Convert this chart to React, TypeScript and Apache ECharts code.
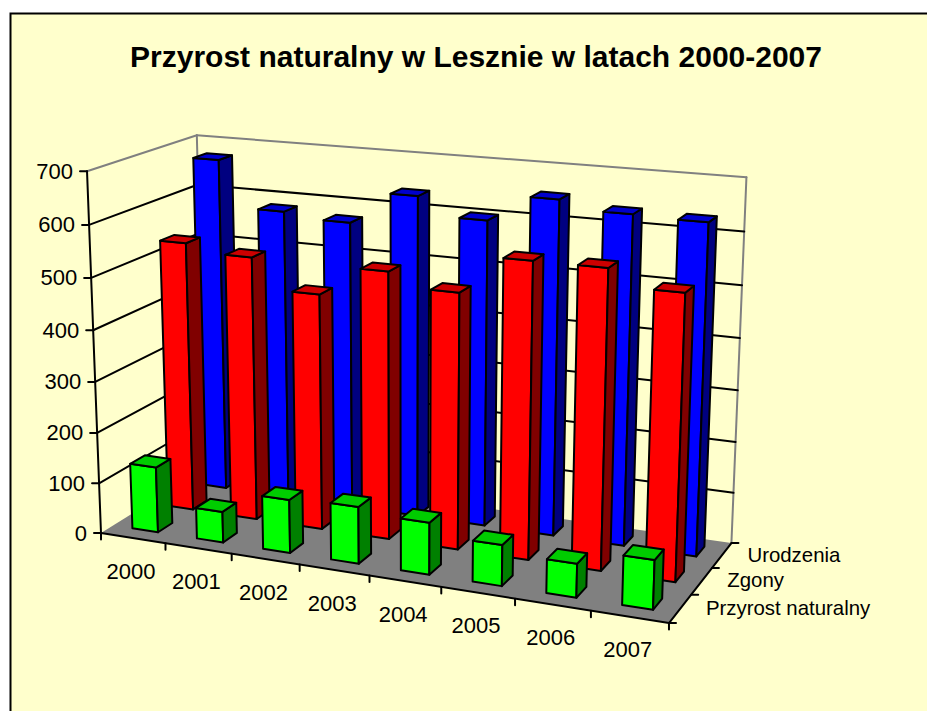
import React, { useEffect, useRef } from "react";
import * as echarts from "echarts";

const titleText = "Przyrost naturalny w Lesznie w latach 2000-2007";
const years = ["2000", "2001", "2002", "2003", "2004", "2005", "2006", "2007"];
const valueTicks = [0, 100, 200, 300, 400, 500, 600, 700];
const depthLabels = ["Przyrost naturalny", "Zgony", "Urodzenia"];
const urodzenia = [673, 582, 572, 635, 600, 651, 635, 632];
const zgony = [536, 521, 463, 520, 494, 566, 566, 535];
const przyrost = [130, 61, 104, 110, 100, 78, 64, 92];

const FONT = '"Liberation Sans", Arial, sans-serif';
const VALUE_MAX = 700;

// Camera: projective mapping of the unit box (u along years, v up, w into the page)
const O = [101, 533];
const VU = [-4824, -248];
const VV = [407, 8450];
const VW = [1342, -239];
const A = -0.1034;
const B = -0.0437;
const C = 0.0917;
function project(u: number, v: number, w: number): number[] {
  const d = 1 + A * u + B * v + C * w;
  return [
    (O[0] + A * u * VU[0] + B * v * VV[0] + C * w * VW[0]) / d,
    (O[1] + A * u * VU[1] + B * v * VV[1] + C * w * VW[1]) / d,
  ];
}

const line = (a: number[], b: number[], stroke: string, lineWidth: number) => ({
  type: "line",
  shape: { x1: a[0], y1: a[1], x2: b[0], y2: b[1] },
  style: { stroke, lineWidth, lineCap: "round" },
});
const poly = (points: number[][], fill: string) => ({
  type: "polygon",
  shape: { points },
  style: { fill, stroke: "#000000", lineWidth: 2, lineJoin: "round" },
});
const label = (text: string, x: number, y: number, size: number, align: string) => ({
  type: "text",
  style: { text, x, y, fill: "#000000", font: `${size}px ${FONT}`, align, verticalAlign: "middle" },
});

const BAR_RATIO = 0.4;
const DEPTH_HALF = 0.0667;
const DEPTH_SHIFT = 0.01;

function barSeries(name: string, values: number[], slot: number, colors: string[]) {
  return {
    type: "custom",
    name,
    clip: false,
    silent: true,
    data: values.map((v, i) => [i, v]),
    renderItem: (params: any, api: any) => {
      const sys = params.coordSys;
      const i = api.value(0);
      const p = api.coord([i, api.value(1)]);
      const uc = (p[0] - sys.x) / sys.width;
      const top = (sys.y + sys.height - p[1]) / sys.height;
      const half = (api.size([1, 0])[0] / sys.width) * BAR_RATIO * 0.5;
      const u0 = uc - half;
      const u1 = uc + half;
      const wc = (slot + 0.5) / depthLabels.length + DEPTH_SHIFT;
      const w0 = wc - DEPTH_HALF;
      const w1 = wc + DEPTH_HALF;
      return {
        type: "group",
        children: [
          poly([project(u0, 0, w0), project(u1, 0, w0), project(u1, top, w0), project(u0, top, w0)], colors[0]),
          poly([project(u1, 0, w0), project(u1, 0, w1), project(u1, top, w1), project(u1, top, w0)], colors[1]),
          poly([project(u0, top, w0), project(u1, top, w0), project(u1, top, w1), project(u0, top, w1)], colors[2]),
        ],
      };
    },
  };
}

const frameSeries = {
  type: "custom",
  clip: false,
  silent: true,
  data: [[0, 0]],
  renderItem: () => ({
    type: "group",
    children: [
      { type: "polygon", shape: { points: [project(0, 0, 0), project(1, 0, 0), project(1, 0, 1), project(0, 0, 1)] }, style: { fill: "#808080" } },
      line(project(0, 0, 1), project(0, 1, 1), "#808080", 2),
      line(project(1, 0, 1), project(1, 1, 1), "#808080", 2),
      line(project(0, 1, 0), project(0, 1, 1), "#808080", 2),
      line(project(0, 1, 1), project(1, 1, 1), "#808080", 2),
      line(project(0, 0, 0), project(0, 1, 0), "#000000", 2),
      line(project(0, 0, 0), project(1, 0, 0), "#000000", 2),
      line(project(1, 0, 0), project(1, 0, 1), "#000000", 2),
    ],
  }),
};

const gridSeries = {
  type: "custom",
  clip: false,
  silent: true,
  data: valueTicks.map((t) => [0, t]),
  renderItem: (params: any, api: any) => {
    const sys = params.coordSys;
    const t = api.value(1);
    const v = (sys.y + sys.height - api.coord([0, t])[1]) / sys.height;
    const a = project(0, v, 0);
    const children: any[] = [
      line([a[0] - 7, a[1]], a, "#000000", 2),
      label(String(t), a[0] - 14, a[1], 22, "right"),
    ];
    if (t > 0 && t < VALUE_MAX) {
      children.push(line(a, project(0, v, 1), "#000000", 2));
      children.push(line(project(0, v, 1), project(1, v, 1), "#000000", 2));
    }
    return { type: "group", children };
  },
};

const categorySeries = {
  type: "custom",
  clip: false,
  silent: true,
  data: years.map((_, i) => [i, 0]),
  renderItem: (params: any, api: any) => {
    const sys = params.coordSys;
    const i = api.value(0);
    const band = api.size([1, 0])[0] / sys.width;
    const uc = (api.coord([i, 0])[0] - sys.x) / sys.width;
    const c = project(uc, 0, 0);
    const e = project(uc + band / 2, 0, 0);
    const children: any[] = [
      line(e, [e[0], e[1] + 6.5], "#000000", 2),
      label(years[i], c[0] - 2, c[1] + 33, 22, "center"),
    ];
    if (i === 0) {
      const s = project(0, 0, 0);
      children.push(line(s, [s[0], s[1] + 6.5], "#000000", 2));
    }
    return { type: "group", children };
  },
};

const depthSeries = {
  type: "custom",
  clip: false,
  silent: true,
  data: depthLabels.map((_, i) => [0, i]),
  renderItem: (_: any, api: any) => {
    const i = api.value(1);
    const n = depthLabels.length;
    const wc = (i + 0.5) / n + DEPTH_SHIFT;
    const c = project(1, 0, wc);
    const t0 = project(1, 0, i / n);
    const children: any[] = [
      line(t0, [t0[0] + 7, t0[1]], "#000000", 2),
      label(depthLabels[i], c[0] + 25, c[1], 20.4, "left"),
    ];
    if (i === n - 1) {
      const t1 = project(1, 0, 1);
      children.push(line(t1, [t1[0] + 7, t1[1]], "#000000", 2));
    }
    return { type: "group", children };
  },
};

export default function App() {
  const ref = useRef<HTMLDivElement>(null);
  useEffect(() => {
    const chart = echarts.init(ref.current!, null, { renderer: "svg" });
    chart.setOption({
      animation: false,
      backgroundColor: "#FFFFFF",
      title: {
        text: titleText,
        left: 471,
        top: 36,
        textAlign: "center",
        textStyle: { fontFamily: FONT, fontWeight: "bold", fontSize: 30, color: "#000000" },
      },
      graphic: [
        {
          type: "rect",
          z: -10,
          silent: true,
          shape: { x: 10.5, y: 13.5, width: 1000, height: 800 },
          style: { fill: "#FFFFCC", stroke: "#000000", lineWidth: 2 },
        },
      ],
      grid: { left: 0, right: 0, top: 0, bottom: 0 },
      xAxis: { type: "category", data: years, show: false },
      yAxis: { type: "value", min: 0, max: VALUE_MAX, interval: 100, show: false },
      series: [
        frameSeries,
        gridSeries,
        categorySeries,
        depthSeries,
        barSeries(depthLabels[2], urodzenia, 2, ["#0000FF", "#000080", "#0000CC"]),
        barSeries(depthLabels[1], zgony, 1, ["#FF0000", "#800000", "#CC0000"]),
        barSeries(depthLabels[0], przyrost, 0, ["#00FF00", "#008000", "#00CC00"]),
      ],
    });
    return () => chart.dispose();
  }, []);
  return <div ref={ref} style={{ position: "absolute", left: 0, top: 0, width: 927, height: 711 }} />;
}
